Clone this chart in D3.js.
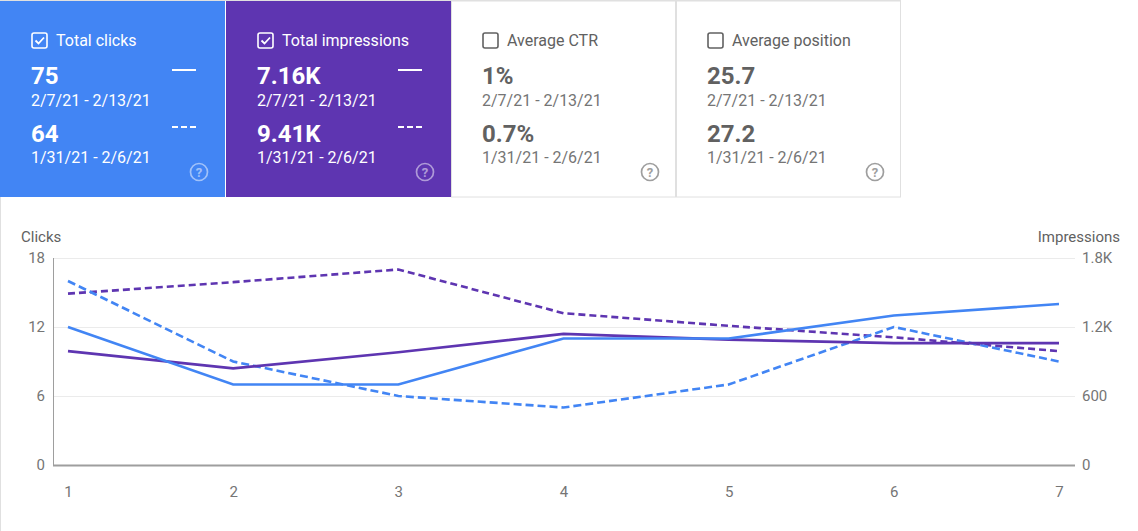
<!DOCTYPE html>
<html>
<head>
	<meta charset="utf-8">
	<script src="https://cdn.jsdelivr.net/npm/d3@7"></script>
	<style>
		body { margin: 0; background: #fff; font-family: Roboto, 'Noto Sans', sans-serif; }
		svg { display: block; }
		.tick text { font-family: Roboto, sans-serif; font-size: 15px; fill: #757575; }
	</style>
	<title>Performance</title>
</head>
<body>
<script>
	// chart data
	var days = [1, 2, 3, 4, 5, 6, 7];
	var clicksCurrent = [12, 7, 7, 11, 11, 13, 14];
	var clicksPrevious = [16, 9, 6, 5, 7, 12, 9];
	var impressionsCurrent = [990, 840, 980, 1140, 1090, 1060, 1060];
	var impressionsPrevious = [1490, 1590, 1700, 1320, 1210, 1110, 990];
	var clicksTicks = [0, 6, 12, 18];
	var impressionsTicks = [0, 600, 1200, 1800];
	var impressionsTickLabels = ["0", "600", "1.2K", "1.8K"];

	// card data
	var cardTitles = ["Total clicks", "Total impressions", "Average CTR", "Average position"];
	var cardCurrent = ["75", "7.16K", "1%", "25.7"];
	var cardPrevious = ["64", "9.41K", "0.7%", "27.2"];
	var cardChecked = [true, true, false, false];
	var currentPeriod = "2/7/21 - 2/13/21";
	var previousPeriod = "1/31/21 - 2/6/21";

	var width = 1138, height = 531;
	var blue = "#4285f4", purple = "#5e35b1";
	var cardFill = [blue, purple, "#fff", "#fff"];
	var cardW = 225, cardH = 196;

	var svg = d3.select("body").append("svg")
		.attr("width", width)
		.attr("height", height);

	// outer borders
	svg.append("line").attr("x1", 0.5).attr("x2", 0.5).attr("y1", 0).attr("y2", height)
		.attr("stroke", "#e0e0e0");
	svg.append("line").attr("x1", 0).attr("x2", 4 * cardW + 1).attr("y1", 0.5).attr("y2", 0.5)
		.attr("stroke", "#e0e0e0");

	// cards
	var cards = svg.selectAll("g.card")
		.data(cardTitles)
		.enter()
		.append("g")
		.attr("class", "card")
		.attr("transform", (d, i) => `translate(${i * cardW + (i > 0 ? 1 : 0)},1)`);

	cards.append("rect")
		.attr("x", (d, i) => i > 1 ? 0.5 : 0)
		.attr("y", 0)
		.attr("width", (d, i) => i > 1 ? cardW - 1 : cardW)
		.attr("height", cardH)
		.attr("fill", (d, i) => cardFill[i])
		.attr("stroke", (d, i) => i > 1 ? "#e0e0e0" : "none");

	var textColor = (i) => cardChecked[i] ? "#fff" : "#616161";
	var subColor = (i) => cardChecked[i] ? "#fff" : "#757575";

	// checkbox
	cards.append("rect")
		.attr("x", 32).attr("y", 32)
		.attr("width", 15).attr("height", 15)
		.attr("rx", 2)
		.attr("fill", "none")
		.attr("stroke", (d, i) => cardChecked[i] ? "#fff" : "#616161")
		.attr("stroke-width", 1.6);
	cards.filter((d, i) => cardChecked[i])
		.append("path")
		.attr("d", "M35.5,39.5 L38.5,42.5 L44,36.5")
		.attr("fill", "none")
		.attr("stroke", "#fff")
		.attr("stroke-width", 1.8);

	cards.append("text")
		.attr("x", 56).attr("y", 45)
		.attr("font-size", 16)
		.attr("fill", (d, i) => textColor(i))
		.text(d => d);

	cards.append("text")
		.attr("x", 31).attr("y", 83)
		.attr("font-size", 24).attr("font-weight", 700)
		.attr("fill", (d, i) => textColor(i))
		.text((d, i) => cardCurrent[i]);
	cards.append("text")
		.attr("x", 31).attr("y", 105)
		.attr("font-size", 16)
		.attr("fill", (d, i) => subColor(i))
		.text(currentPeriod);
	cards.append("text")
		.attr("x", 31).attr("y", 141)
		.attr("font-size", 24).attr("font-weight", 700)
		.attr("fill", (d, i) => textColor(i))
		.text((d, i) => cardPrevious[i]);
	cards.append("text")
		.attr("x", 31).attr("y", 162)
		.attr("font-size", 16)
		.attr("fill", (d, i) => subColor(i))
		.text(previousPeriod);

	// legend marks on checked cards
	var checkedCards = cards.filter((d, i) => cardChecked[i]);
	checkedCards.append("line")
		.attr("x1", 172).attr("x2", 196).attr("y1", 69).attr("y2", 69)
		.attr("stroke", "#fff").attr("stroke-width", 2);
	checkedCards.append("line")
		.attr("x1", 172).attr("x2", 196).attr("y1", 126).attr("y2", 126)
		.attr("stroke", "#fff").attr("stroke-width", 2)
		.attr("stroke-dasharray", "6,3");

	// help icon
	var help = cards.append("g").attr("transform", "translate(199,171)")
		.attr("opacity", (d, i) => cardChecked[i] ? 0.5 : 1);
	help.append("circle").attr("r", 8.5)
		.attr("fill", "none")
		.attr("stroke", (d, i) => cardChecked[i] ? "#fff" : "#9e9e9e")
		.attr("stroke-width", 1.7);
	help.append("text")
		.attr("text-anchor", "middle").attr("y", 4.5)
		.attr("font-size", 13).attr("font-weight", 700)
		.attr("fill", (d, i) => cardChecked[i] ? "#fff" : "#9e9e9e")
		.text("?");

	// chart
	var plot = { left: 53, right: 1075, top: 258, bottom: 465 };
	var x = d3.scaleLinear().domain([1, 7]).range([68, 1059]);
	var yClicks = d3.scaleLinear().domain([0, 18]).range([plot.bottom, plot.top]);
	var yImpr = d3.scaleLinear().domain([0, 1800]).range([plot.bottom, plot.top]);

	// gridlines
	svg.append("g").selectAll("line")
		.data(clicksTicks.filter(d => d > 0))
		.enter()
		.append("line")
		.attr("x1", plot.left).attr("x2", plot.right)
		.attr("y1", d => Math.round(yClicks(d)) + 0.5)
		.attr("y2", d => Math.round(yClicks(d)) + 0.5)
		.attr("stroke", "#ebebeb");

	// left axis
	var leftAxis = svg.append("g")
		.attr("transform", `translate(${plot.left},0)`)
		.call(d3.axisLeft(yClicks).tickValues(clicksTicks).tickSize(0).tickPadding(8));
	leftAxis.select(".domain").remove();
	svg.append("line")
		.attr("x1", plot.left + 0.5).attr("x2", plot.left + 0.5)
		.attr("y1", plot.top).attr("y2", plot.bottom)
		.attr("stroke", "#9e9e9e");

	// right axis
	var rightAxis = svg.append("g")
		.attr("transform", `translate(${plot.right},0)`)
		.call(d3.axisRight(yImpr).tickValues(impressionsTicks)
			.tickFormat((d, i) => impressionsTickLabels[i]).tickSize(0).tickPadding(7));
	rightAxis.select(".domain").remove();

	// bottom axis
	var bottomAxis = svg.append("g")
		.attr("transform", `translate(0,${plot.bottom})`)
		.call(d3.axisBottom(x).tickValues(days).tickFormat(d3.format("d")).tickSize(0).tickPadding(21));
	bottomAxis.select(".domain").remove();
	svg.append("line")
		.attr("x1", plot.left).attr("x2", plot.right)
		.attr("y1", plot.bottom + 0.5).attr("y2", plot.bottom + 0.5)
		.attr("stroke", "#9e9e9e").attr("stroke-width", 2);

	// axis titles
	svg.append("text").attr("x", 21).attr("y", 242)
		.attr("font-size", 15).attr("fill", "#616161").text("Clicks");
	svg.append("text").attr("x", 1120).attr("y", 242)
		.attr("text-anchor", "end")
		.attr("font-size", 15).attr("fill", "#616161").text("Impressions");

	// lines
	var series = [
		{ values: impressionsPrevious, scale: yImpr, color: purple, dash: "7,4" },
		{ values: clicksPrevious, scale: yClicks, color: blue, dash: "8,4" },
		{ values: impressionsCurrent, scale: yImpr, color: purple, dash: null },
		{ values: clicksCurrent, scale: yClicks, color: blue, dash: null }
	];
	for (var s of series) {
		var line = d3.line()
			.x((d, i) => x(days[i]))
			.y(d => s.scale(d));
		svg.append("path")
			.attr("d", line(s.values))
			.attr("fill", "none")
			.attr("stroke", s.color)
			.attr("stroke-width", 2.6)
			.attr("stroke-dasharray", s.dash);
	}
</script>
</body>
</html>
